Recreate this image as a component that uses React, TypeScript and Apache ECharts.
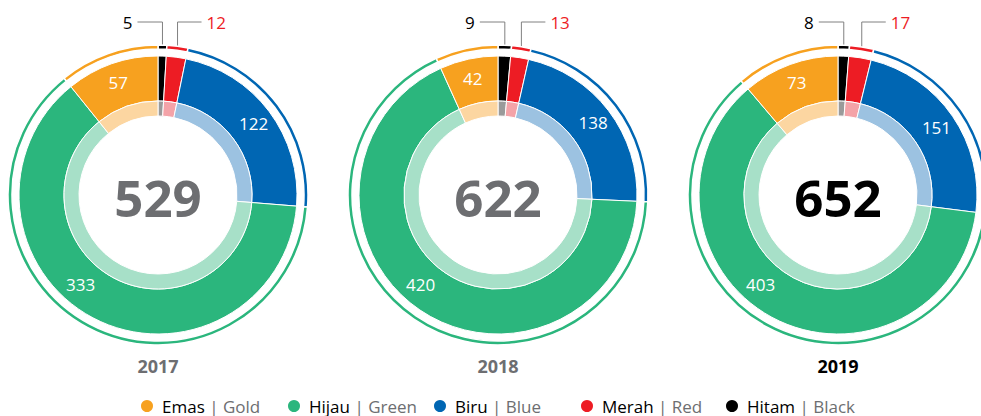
import React, { useEffect, useRef } from "react";
import * as echarts from "echarts";

const years = ["2017", "2018", "2019"];
const categories = ["Hitam", "Merah", "Biru", "Hijau", "Emas"];
const englishNames = ["Black", "Red", "Blue", "Green", "Gold"];
const hitam = [5, 9, 8];
const merah = [12, 13, 17];
const biru = [122, 138, 151];
const hijau = [333, 420, 403];
const emas = [57, 42, 73];
const totals = [529, 622, 652];

const mainColors = ["#000000", "#ED1C24", "#0066B3", "#2BB67D", "#F7A11F"];
const lightColors = ["#9A9A9A", "#F4A3A8", "#9CC2E1", "#A7E0C8", "#FCD6A1"];
const yearColors = ["#6D6E71", "#6D6E71", "#000000"];

const legendOrder = ["Emas", "Hijau", "Biru", "Merah", "Hitam"];
const legendLeft = [139, 286, 432, 579, 724];

const FONT = "'Open Sans', 'Noto Sans', sans-serif";

export default function App() {
  const ref = useRef<HTMLDivElement>(null);
  useEffect(() => {
    if (!ref.current) return;
    const chart = echarts.init(ref.current, null, { renderer: "svg" });
    const series: any[] = [];
    const graphic: any[] = [];
    const cy = 195;
    const R = { inner0: 79, inner1: 94, main1: 139, out0: 146, out1: 150 };
    years.forEach((yr, i) => {
      const cx = 158 + 340 * i;
      const values = [hitam[i], merah[i], biru[i], hijau[i], emas[i]];
      const total = values.reduce((a, b) => a + b, 0);
      const base = {
        type: "pie",
        center: [cx, cy],
        startAngle: 90,
        clockwise: true,
        avoidLabelOverlap: false,
        emphasis: { disabled: true },
        silent: true,
        labelLine: { show: false },
      };
      // outer thin ring
      series.push({
        ...base,
        radius: [R.out0, R.out1],
        label: { show: false },
        itemStyle: { borderColor: "#fff", borderWidth: 1.5 },
        data: categories.map((c, k) => ({ name: c, value: values[k], itemStyle: { color: mainColors[k] } })),
      });
      // main ring
      series.push({
        ...base,
        radius: [R.inner1, R.main1],
        itemStyle: { borderColor: "#fff", borderWidth: 1 },
        label: {
          show: true,
          position: "inside",
          color: "#fff",
          fontSize: 17,
          fontFamily: FONT,
          formatter: "{c}",
        },
        labelLayout: (p: any) => {
          if (p.dataIndex === 3) {
            const a = (221 * Math.PI) / 180;
            const r = 118;
            return { x: cx + r * Math.sin(a), y: cy - r * Math.cos(a) };
          }
          return {};
        },
        data: categories.map((c, k) => ({
          name: c,
          value: values[k],
          itemStyle: { color: mainColors[k] },
          label: { show: k >= 2 },
        })),
      });
      // inner light ring
      series.push({
        ...base,
        radius: [R.inner0, R.inner1],
        label: { show: false },
        itemStyle: { borderColor: "#fff", borderWidth: 1 },
        data: categories.map((c, k) => ({ name: c, value: values[k], itemStyle: { color: lightColors[k] } })),
      });

      // leader lines for the two small segments
      const angBlack = ((values[0] / 2) / total) * Math.PI * 2;
      const angRed = ((values[0] + values[1] / 2) / total) * Math.PI * 2;
      const bx = cx + R.out1 * Math.sin(angBlack);
      const by = cy - R.out1 * Math.cos(angBlack);
      const rx = cx + R.out1 * Math.sin(angRed);
      const ry = cy - R.out1 * Math.cos(angRed);
      const ly = 22;
      graphic.push({
        type: "polyline",
        silent: true,
        shape: { points: [[bx, by], [bx, ly], [bx - 25, ly]] },
        style: { stroke: "#808080", lineWidth: 1, fill: null },
      });
      graphic.push({
        type: "text",
        x: bx - 30,
        y: ly,
        style: {
          text: String(values[0]),
          fill: "#000",
          fontSize: 17,
          fontFamily: FONT,
          align: "right",
          verticalAlign: "middle",
        },
      });
      graphic.push({
        type: "polyline",
        silent: true,
        shape: { points: [[rx, ry], [rx, ly], [rx + 24, ly]] },
        style: { stroke: "#808080", lineWidth: 1, fill: null },
      });
      graphic.push({
        type: "text",
        x: rx + 29,
        y: ly,
        style: {
          text: String(values[1]),
          fill: "#ED1C24",
          fontSize: 17,
          fontFamily: FONT,
          align: "left",
          verticalAlign: "middle",
        },
      });
      // center total
      graphic.push({
        type: "text",
        x: cx,
        y: cy + 2,
        style: {
          text: String(totals[i]),
          fill: yearColors[i],
          fontSize: 51,
          fontWeight: "bold",
          fontFamily: FONT,
          align: "center",
          verticalAlign: "middle",
        },
      });
      // year label
      graphic.push({
        type: "text",
        x: cx,
        y: 366,
        style: {
          text: yr,
          fill: yearColors[i],
          fontSize: 18,
          fontWeight: "bold",
          fontFamily: FONT,
          align: "center",
          verticalAlign: "middle",
        },
      });
    });

    const legends = legendOrder.map((name, j) => {
      const k = categories.indexOf(name);
      return {
        data: [{ name, itemStyle: { color: mainColors[k] } }],
        left: legendLeft[j],
        top: 397,
        padding: 0,
        icon: "circle",
        itemWidth: 14,
        itemHeight: 14,
        itemGap: 0,
        selectedMode: false,
        formatter: (n: string) => `{a|${n}} {b|| ${englishNames[categories.indexOf(n)]}}`,
        textStyle: {
          fontFamily: FONT,
          fontSize: 17,
          lineHeight: 18,
          rich: {
            a: { color: "#000", fontSize: 17, fontFamily: FONT, lineHeight: 18, padding: [0, 0, 0, 3] },
            b: { color: "#6D6E71", fontSize: 17, fontFamily: FONT, lineHeight: 18 },
          },
        },
      };
    });

    chart.setOption({
      animation: false,
      backgroundColor: "#fff",
      legend: legends,
      series,
      graphic,
    });
    return () => chart.dispose();
  }, []);
  return (
    <div
      ref={ref}
      style={{ position: "fixed", left: 0, top: 0, width: 981, height: 416 }}
    />
  );
}
